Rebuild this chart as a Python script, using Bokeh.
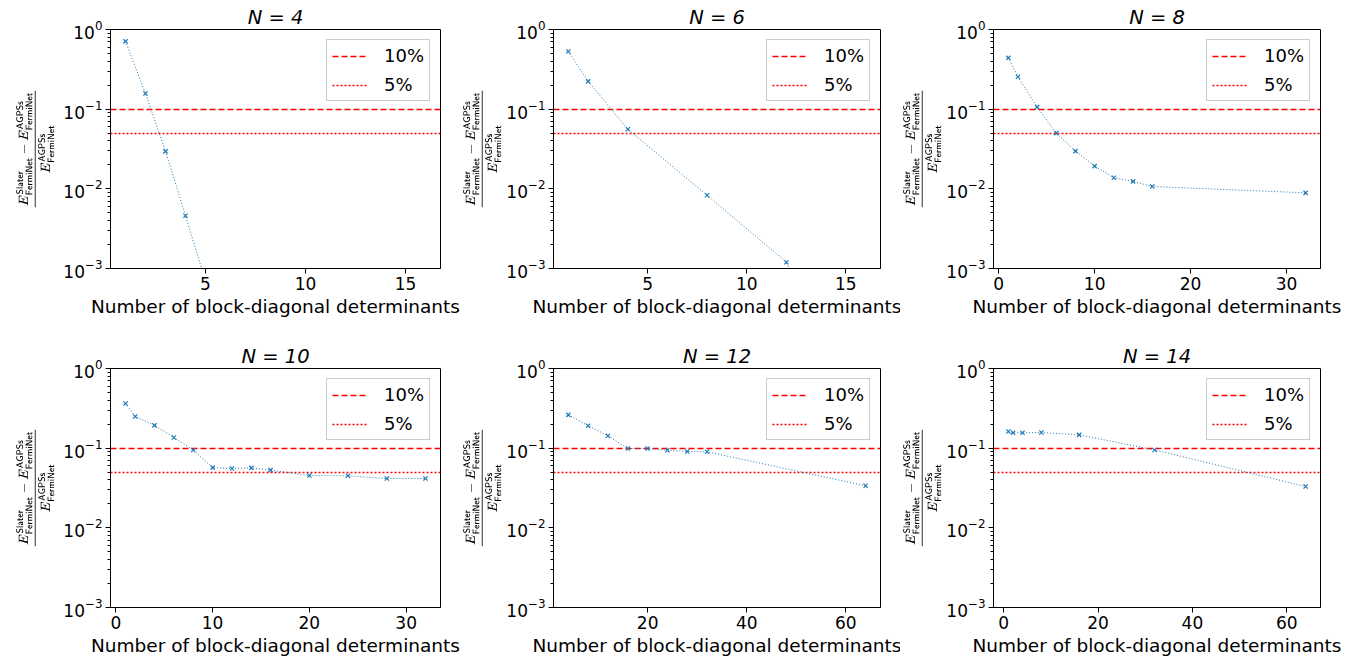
from bokeh.plotting import figure
from bokeh.layouts import column, row
from bokeh.models import FixedTicker
from bokeh.embed import file_html
from bokeh.resources import INLINE

# ---- data ----
n_values = [4, 6, 8, 10, 12, 14]

x_n4 = [1, 2, 3, 4, 8, 16]
y_n4 = [0.71, 0.157, 0.0295, 0.0046, 2.3e-6, 1.5e-6]

x_n6 = [1, 2, 4, 8, 12, 16]
y_n6 = [0.53, 0.223, 0.056, 0.0083, 0.0012, 1.0e-5]

x_n8 = [1, 2, 4, 6, 8, 10, 12, 14, 16, 32]
y_n8 = [0.44, 0.255, 0.106, 0.050, 0.0297, 0.0193, 0.0138, 0.0124, 0.0107, 0.0089]

x_n10 = [1, 2, 4, 6, 8, 10, 12, 14, 16, 20, 24, 28, 32]
y_n10 = [0.364, 0.250, 0.193, 0.136, 0.095, 0.057, 0.0556, 0.0566, 0.053, 0.0454, 0.045, 0.0416, 0.0416]

x_n12 = [4, 8, 12, 16, 20, 24, 28, 32, 64]
y_n12 = [0.262, 0.191, 0.143, 0.099, 0.099, 0.094, 0.091, 0.090, 0.0337]

x_n14 = [1, 2, 4, 8, 16, 32, 64]
y_n14 = [0.162, 0.156, 0.156, 0.157, 0.147, 0.095, 0.033]

x_ticks = [[5, 10, 15], [5, 10, 15], [0, 10, 20, 30], [0, 10, 20, 30], [20, 40, 60], [0, 20, 40, 60]]

thresholds = [0.1, 0.05]
threshold_labels = ["10%", "5%"]

series = [(x_n4, y_n4), (x_n6, y_n6), (x_n8, y_n8), (x_n10, y_n10), (x_n12, y_n12), (x_n14, y_n14)]

FONT = "DejaVu Sans"
BLUE = "#1f77b4"
YLABEL = (r"$$\frac{E^{\mathsf{Slater}}_{\mathsf{FermiNet}} - E^{\mathsf{AGPSs}}_{\mathsf{FermiNet}}}"
          r"{E^{\mathsf{AGPSs}}_{\mathsf{FermiNet}}}$$")

FRAME_W, FRAME_H = 330, 239
LEFTS = [110, 90, 90]
RIGHTS = [20, 20, 48]
Y_LO, Y_HI = 1e-3, 1.0


def make_panel(i):
    xs, ys = series[i]
    c = i % 3
    n = n_values[i]
    lo, hi = min(xs), max(xs)
    pad = 0.05 * (hi - lo)
    height = 339 if i < 3 else 321
    width = LEFTS[c] + FRAME_W + RIGHTS[c]
    p = figure(width=width, height=height, y_axis_type="log",
               x_range=(lo - pad, hi + pad), y_range=(Y_LO, Y_HI),
               output_backend="svg", toolbar_location=None,
               min_border_left=LEFTS[c], min_border_right=RIGHTS[c],
               min_border_top=29, min_border_bottom=height - 29 - FRAME_H)
    p.grid.visible = False
    p.outline_line_color = "black"
    p.outline_line_width = 1
    p.outline_line_alpha = 1

    # title
    p.title.text = "N = %d" % n
    p.title.align = "center"
    p.title.text_font = FONT
    p.title.text_font_size = "19.5px"
    p.title.text_font_style = "italic"
    p.title.text_color = "black"
    p.title.standoff = 2

    # threshold lines
    p.hspan(y=[thresholds[0]], line_color="red", line_width=1.4, line_dash="6 3",
            legend_label=threshold_labels[0])
    p.hspan(y=[thresholds[1]], line_color="red", line_width=1.4, line_dash="2 2",
            legend_label=threshold_labels[1])

    # data
    p.line(xs, ys, line_color=BLUE, line_width=1, line_dash="1 2")
    p.scatter(xs, ys, marker="x", size=6, line_color=BLUE, line_width=1.2)

    # axes
    p.xaxis.ticker = FixedTicker(ticks=x_ticks[i])
    p.xaxis.axis_label = "Number of block-diagonal determinants"
    p.xaxis.axis_label_text_font = FONT
    p.xaxis.axis_label_text_font_style = "normal"
    p.xaxis.axis_label_text_font_size = "18.5px"
    p.xaxis.axis_label_text_color = "black"
    p.xaxis.axis_label_standoff = 3
    p.xaxis.minor_tick_line_color = None
    p.yaxis.axis_label = YLABEL
    p.yaxis.axis_label_text_font_size = "10px"
    p.yaxis.axis_label_text_color = "black"
    p.yaxis.axis_label_standoff = 6 if c == 0 else 2
    for ax in (p.xaxis, p.yaxis):
        ax.major_label_text_font = FONT
        ax.major_label_text_font_size = "17px"
        ax.major_label_text_color = "black"
        ax.major_label_standoff = 3
        ax.axis_line_color = "black"
        ax.major_tick_line_color = "black"
        ax.major_tick_out = 5
        ax.major_tick_in = 0
        ax.minor_tick_out = 3
        ax.minor_tick_in = 0

    # legend
    lg = p.legend[0]
    lg.location = "top_right"
    lg.label_text_font = FONT
    lg.label_text_font_size = "18px"
    lg.label_text_color = "black"
    lg.glyph_width = 36
    lg.glyph_height = 20
    lg.label_height = 20
    lg.label_standoff = 16
    lg.spacing = 8
    lg.padding = 5
    lg.margin = 10
    lg.border_line_color = "#cccccc"
    lg.border_line_alpha = 1
    lg.background_fill_alpha = 0.8
    return p


panels = [make_panel(i) for i in range(6)]
layout = column(row(*panels[:3]), row(*panels[3:]))
open("out.html", "w").write(file_html(layout, INLINE))
